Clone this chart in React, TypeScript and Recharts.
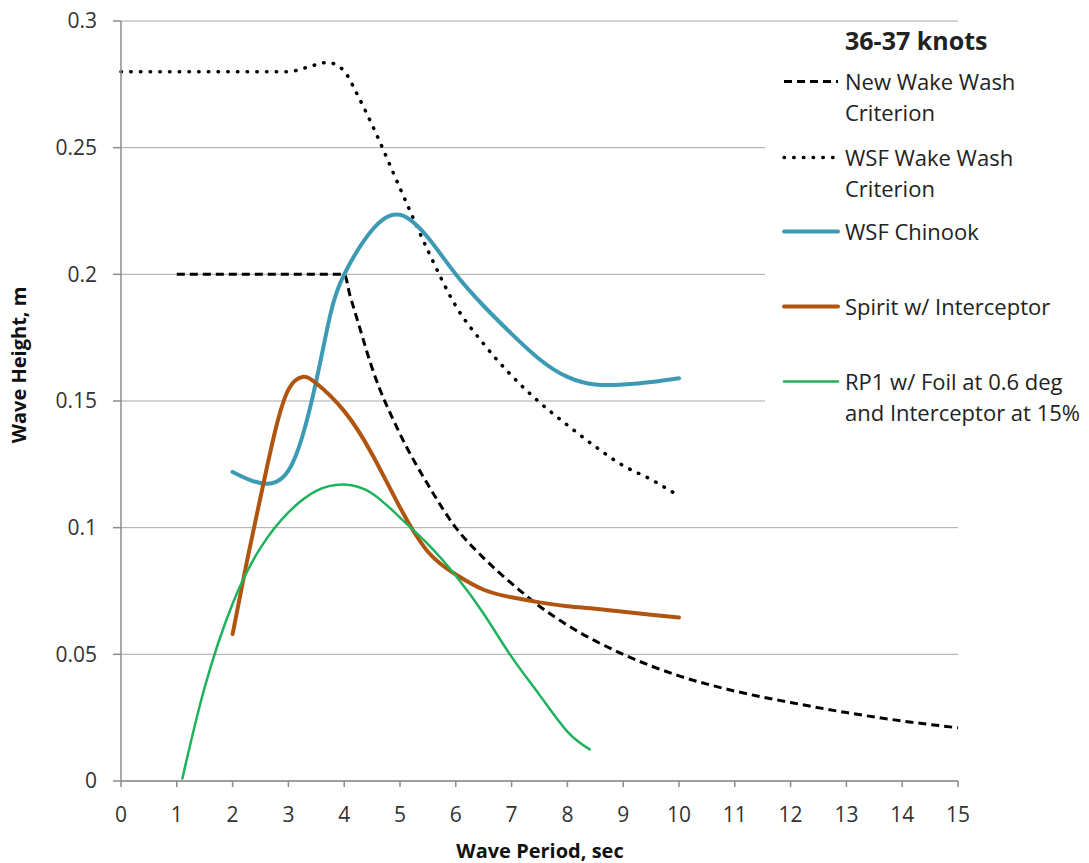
import { LineChart, Line, XAxis, YAxis, CartesianGrid, Legend } from 'recharts'

// axis ticks
const xTicks = [0, 1, 2, 3, 4, 5, 6, 7, 8, 9, 10, 11, 12, 13, 14, 15]
const yTicks = [0, 0.05, 0.1, 0.15, 0.2, 0.25, 0.3]

// New Wake Wash Criterion (dashed)
const newWakeX = [1, 2, 3, 4, 4.1, 4.25, 4.5, 5, 5.5, 6, 6.5, 7, 7.5, 8, 8.5, 9, 10, 11, 12, 13, 14, 15]
const newWakeY = [0.2, 0.2, 0.2, 0.2, 0.192, 0.181, 0.163, 0.137, 0.117, 0.1, 0.088, 0.078, 0.069, 0.0615, 0.0553, 0.05, 0.0415, 0.0355, 0.031, 0.027, 0.0237, 0.021]

// WSF Wake Wash Criterion (dotted)
const wsfX = [0, 1, 2, 3, 3.3, 3.7, 3.9, 4.05, 4.2, 4.5, 5, 5.5, 6, 6.5, 7, 7.5, 8, 8.5, 9, 9.5, 10]
const wsfY = [0.28, 0.28, 0.28, 0.28, 0.2815, 0.2836, 0.2822, 0.2787, 0.2725, 0.259, 0.234, 0.2094, 0.1875, 0.1725, 0.16, 0.1495, 0.1405, 0.132, 0.1245, 0.119, 0.1125]

// WSF Chinook
const chinookX = [2, 2.35, 2.7, 3, 3.25, 3.5, 3.75, 4, 4.5, 5, 5.5, 6, 6.5, 7, 7.5, 8, 8.5, 9, 9.5, 10]
const chinookY = [0.122, 0.1185, 0.1175, 0.1225, 0.136, 0.158, 0.184, 0.2, 0.2175, 0.2235, 0.2145, 0.2, 0.1875, 0.1765, 0.1665, 0.1595, 0.1565, 0.1565, 0.1575, 0.159]

// Spirit w/ Interceptor
const spiritX = [2, 2.25, 2.5, 2.75, 3, 3.25, 3.5, 4, 4.5, 5, 5.5, 6, 6.5, 7, 7.5, 8, 8.5, 9, 9.5, 10]
const spiritY = [0.058, 0.086, 0.112, 0.137, 0.1545, 0.1595, 0.157, 0.146, 0.129, 0.108, 0.0905, 0.0815, 0.0755, 0.0725, 0.0705, 0.069, 0.068, 0.0668, 0.0656, 0.0645]

// RP1 w/ Foil at 0.6 deg and Interceptor at 15%
const rp1X = [1.1, 1.5, 2, 2.5, 3, 3.5, 4, 4.5, 5, 5.5, 6, 6.5, 7, 7.5, 8, 8.4]
const rp1Y = [0.001, 0.037, 0.07, 0.092, 0.106, 0.1145, 0.117, 0.1135, 0.104, 0.0935, 0.081, 0.066, 0.049, 0.034, 0.0195, 0.0125]

const zip = (xs: number[], ys: number[]) => xs.map((x, i) => ({ x, y: ys[i] }))

const FONT = '"Open Sans", sans-serif'

const series = [
  { key: 'new', lines: ['New Wake Wash', 'Criterion'], data: zip(newWakeX, newWakeY), color: '#000', width: 3, dash: '8 5', cap: 'butt', curve: 'monotone', top: 42 },
  { key: 'wsf', lines: ['WSF Wake Wash', 'Criterion'], data: zip(wsfX, wsfY), color: '#000', width: 3.5, dash: '0.5 9.2', cap: 'round', curve: 'monotone', top: 118 },
  { key: 'chinook', lines: ['WSF Chinook'], data: zip(chinookX, chinookY), color: '#3D9AB4', width: 4, dash: undefined, cap: 'round', curve: 'natural', top: 192 },
  { key: 'spirit', lines: ['Spirit w/ Interceptor'], data: zip(spiritX, spiritY), color: '#B0550F', width: 4, dash: undefined, cap: 'round', curve: 'natural', top: 267 },
  { key: 'rp1', lines: ['RP1 w/ Foil at 0.6 deg', 'and Interceptor at 15%'], data: zip(rp1X, rp1Y), color: '#1FB25C', width: 2.5, dash: undefined, cap: 'round', curve: 'natural', top: 342 },
]

function LegendBox() {
  return (
    <div style={{ position: 'relative', width: 324, height: 446, fontFamily: FONT, color: '#222' }}>
      <div style={{ position: 'absolute', left: 80, top: 0, fontSize: 25, fontWeight: 700, lineHeight: '32px' }}>36-37 knots</div>
      {series.map(s => (
        <div key={s.key} style={{ position: 'absolute', left: 0, top: s.top }}>
          <svg width={60} height={31} style={{ position: 'absolute', left: 17, top: 0 }}>
            <line x1={2} y1={15.5} x2={56} y2={15.5} stroke={s.color} strokeWidth={s.width}
              strokeDasharray={s.dash} strokeLinecap={s.cap as any} />
          </svg>
          <div style={{ position: 'absolute', left: 80, top: 0, fontSize: 22, lineHeight: '31px', whiteSpace: 'nowrap' }}>
            {s.lines.map(t => <div key={t}>{t}</div>)}
          </div>
        </div>
      ))}
    </div>
  )
}

export default function App() {
  return (
    <div style={{ position: 'absolute', left: 0, top: 0, width: 1089, height: 863, background: '#fff', fontFamily: FONT }}>
      <LineChart width={1089} height={863} margin={{ top: 21, right: 131, bottom: 52, left: 0 }}>
        <CartesianGrid horizontal vertical={false} stroke="#a8a8a8" strokeWidth={1} />
        <XAxis type="number" dataKey="x" domain={[0, 15]} ticks={xTicks} interval={0} height={30}
          stroke="#8c8c8c" strokeWidth={1.5} tickSize={6} tickMargin={20}
          tick={{ fill: '#333', fontSize: 21, fontFamily: FONT }}
          label={() => (
            <text x={540} y={858} textAnchor="middle" fontFamily={FONT} fontSize={20} fontWeight={700} fill="#111">Wave Period, sec</text>
          )} />
        <YAxis type="number" domain={[0, 0.3]} ticks={yTicks} interval={0} width={121}
          stroke="#8c8c8c" strokeWidth={1.5} tickSize={8} tickMargin={16}
          tickFormatter={(v: number) => String(v)}
          tick={{ fill: '#333', fontSize: 21, fontFamily: FONT }}
          label={() => (
            <text x={26} y={365} transform="rotate(-90 26 365)" textAnchor="middle" fontFamily={FONT} fontSize={20} fontWeight={700} fill="#111">Wave Height, m</text>
          )} />
        <Legend layout="horizontal" verticalAlign="middle" align="center" content={() => <LegendBox />}
          wrapperStyle={{ position: 'absolute', left: 765, top: 24, width: 324, height: 446, background: '#fff' }} />
        {series.map(s => (
          <Line key={s.key} data={s.data} dataKey="y" type={s.curve as any} stroke={s.color} strokeWidth={s.width}
            strokeDasharray={s.dash} strokeLinecap={s.cap as any} dot={false} activeDot={false}
            isAnimationActive={false} legendType="none" />
        ))}
      </LineChart>
    </div>
  )
}
